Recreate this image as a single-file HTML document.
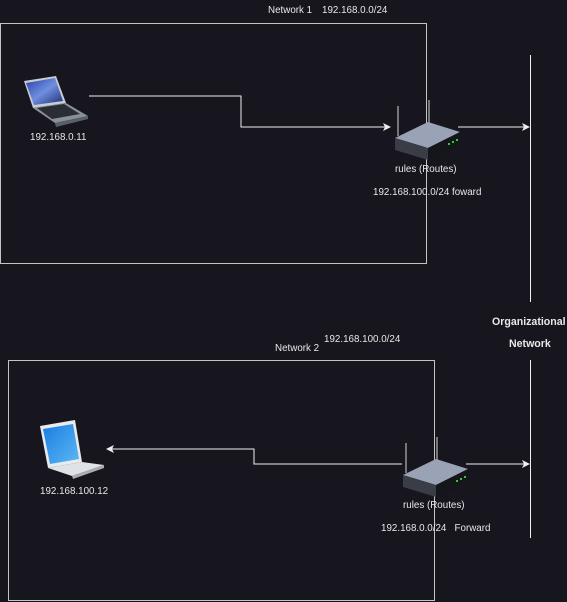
<!DOCTYPE html>
<html><head><meta charset="utf-8"><style>
html,body{margin:0;padding:0;background:#17151d;}
body{width:567px;height:602px;position:relative;overflow:hidden;font-family:"Liberation Sans",Arial,sans-serif;color:#e8e8e8;font-size:9.8px;}
.t{position:absolute;white-space:nowrap;}
.b{font-weight:bold;font-size:10.6px;}
</style></head><body>
<svg width="567" height="602" style="position:absolute;left:0;top:0">
<defs>
<marker id="a" markerWidth="8" markerHeight="8" refX="7" refY="4" orient="auto" markerUnits="userSpaceOnUse"><path d="M0,0 L8,4 L0,8 L2,4 z" fill="#f0f0f0"/></marker>
<linearGradient id="scr" x1="0" y1="0" x2="1" y2="1"><stop offset="0" stop-color="#2a3fa8"/><stop offset="0.5" stop-color="#6f8fe0"/><stop offset="1" stop-color="#1e2c70"/></linearGradient>
<linearGradient id="scr2" x1="0" y1="0" x2="1" y2="1"><stop offset="0" stop-color="#1a7de0"/><stop offset="1" stop-color="#5cb8f5"/></linearGradient>
</defs>
<rect x="0.5" y="23.5" width="426" height="240" fill="none" stroke="#c4c4c4" stroke-width="1"/>
<rect x="8.5" y="360.5" width="426" height="240" fill="none" stroke="#c4c4c4" stroke-width="1"/>
<line x1="530.5" y1="55" x2="530.5" y2="302" stroke="#f0f0f0"/>
<line x1="530.5" y1="360" x2="530.5" y2="538" stroke="#f0f0f0"/>
<polyline points="89,96 241,96 241,127 390,127" fill="none" stroke="#f0f0f0" marker-end="url(#a)"/>
<line x1="458" y1="127" x2="529" y2="127" stroke="#f0f0f0" marker-end="url(#a)"/>
<polyline points="402,464 254,464 254,449 107,449" fill="none" stroke="#f0f0f0" marker-end="url(#a)"/>
<line x1="466" y1="464" x2="529" y2="464" stroke="#f0f0f0" marker-end="url(#a)"/>
<g>
<polygon points="24,81 56,76 66,103 33,108" fill="#c8ccd4"/>
<polygon points="26,83 55,78 63,101 34,105" fill="url(#scr)"/>
<polygon points="33,108 66,103 88,116 55,123" fill="#8a9099"/>
<polygon points="37,108 64,104 80,114 52,119" fill="#2a2d33"/>
<polygon points="55,123 88,116 88,119 56,127" fill="#5a6068"/>
</g>
<g>
<polygon points="40,426 75,420 82,462 48,468" fill="#e8eaee"/>
<polygon points="43,429 73,424 79,459 50,464" fill="url(#scr2)"/>
<polygon points="48,468 82,462 104,465 72,476" fill="#dfe2e6"/>
<polygon points="72,476 104,465 104,468 73,479" fill="#a9adb3"/>
</g>
<g>
<line x1="398" y1="106" x2="398" y2="136" stroke="#777" stroke-width="2"/>
<line x1="429" y1="100" x2="429" y2="126" stroke="#777" stroke-width="2"/>
<polygon points="395,138 428,122 460,132 428,148" fill="#9aa3b5"/>
<polygon points="395,138 428,148 428,160 395,150" fill="#3a3d45"/>
<polygon points="428,148 460,132 460,145 428,162" fill="#15161a"/>
<circle cx="449" cy="144" r="1" fill="#4f4"/><circle cx="453" cy="142" r="1" fill="#4f4"/><circle cx="457" cy="140" r="1" fill="#4f4"/>
</g>
<g transform="translate(8,337)">
<line x1="398" y1="106" x2="398" y2="136" stroke="#777" stroke-width="2"/>
<line x1="429" y1="100" x2="429" y2="126" stroke="#777" stroke-width="2"/>
<polygon points="395,138 428,122 460,132 428,148" fill="#9aa3b5"/>
<polygon points="395,138 428,148 428,160 395,150" fill="#3a3d45"/>
<polygon points="428,148 460,132 460,145 428,162" fill="#15161a"/>
<circle cx="449" cy="144" r="1" fill="#4f4"/><circle cx="453" cy="142" r="1" fill="#4f4"/><circle cx="457" cy="140" r="1" fill="#4f4"/>
</g>
</svg>
<div class="t" style="left:268px;top:5px;">Network 1</div>
<div class="t" style="left:322px;top:5px;">192.168.0.0/24</div>
<div class="t" style="left:30px;top:132px;">192.168.0.11</div>
<div class="t" style="left:395px;top:164px;">rules (Routes)</div>
<div class="t" style="left:373px;top:187px;">192.168.100.0/24 foward</div>
<div class="t b" style="left:492px;top:316px;">Organizational</div>
<div class="t b" style="left:509px;top:338px;">Network</div>
<div class="t" style="left:324px;top:334px;">192.168.100.0/24</div>
<div class="t" style="left:275px;top:343px;">Network 2</div>
<div class="t" style="left:40px;top:486px;">192.168.100.12</div>
<div class="t" style="left:403px;top:500px;">rules (Routes)</div>
<div class="t" style="left:381px;top:523px;">192.168.0.0/24 &nbsp; Forward</div>
</body></html>
